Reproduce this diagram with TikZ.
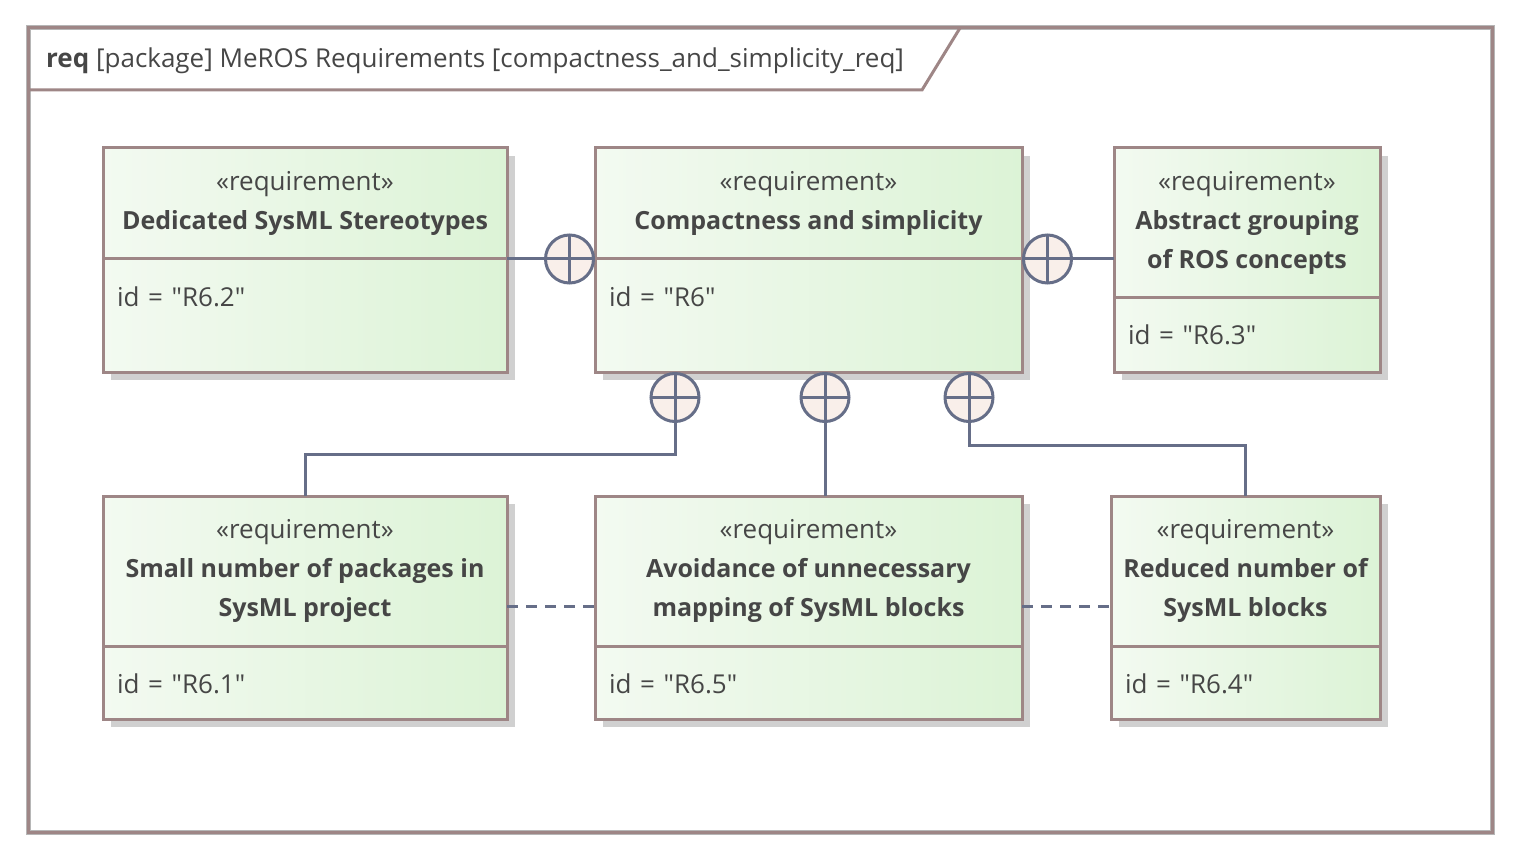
\documentclass[tikz,border=0pt]{standalone}
\usepackage{fontspec}
\setmainfont{Open Sans}
\usetikzlibrary{positioning,shadows}
\definecolor{edge}{RGB}{158,134,134}
\definecolor{lineblue}{RGB}{102,110,136}
\definecolor{ink}{RGB}{70,70,70}
\definecolor{bulb}{RGB}{249,239,234}
\definecolor{fillL}{RGB}{243,250,241}
\definecolor{fillR}{RGB}{220,243,214}
\definecolor{shade}{RGB}{208,208,208}
\definecolor{rim}{RGB}{182,182,182}
\newcommand{\reqname}[1]{{\fontsize{25}{39}\selectfont\bfseries #1}}
\newcommand{\reqid}[1]{id = \textquotedbl #1\textquotedbl}

\begin{document}
\begin{tikzpicture}[
  x = 1pt,
  y = -1pt,
  font = \fontsize{26}{39}\selectfont,
  box/.style = {
    draw = edge,
    line width = 3pt,
    left color = fillL,
    right color = fillR,
    text = ink,
    inner sep = 0pt,
    outer sep = 0pt,
    drop shadow = {shadow xshift=8pt, shadow yshift=-8pt, fill=shade, opacity=1},
  },
  head/.style = {box, align=center},
  attr/.style = {box, inner xsep=14pt, text height=47pt, align=left},
  contain/.style = {
    circle,
    draw = lineblue,
    fill = bulb,
    line width = 3pt,
    minimum size = 48pt,
    inner sep = 0pt,
    path picture = {
      \draw[lineblue, line width=3pt]
        (path picture bounding box.north) -- (path picture bounding box.south)
        (path picture bounding box.west) -- (path picture bounding box.east);
    },
  },
  rel/.style = {draw=lineblue, line width=3pt},
]
  \useasboundingbox (0,0) rectangle (1521,861);

  % diagram frame
  \draw[rim, line width=5pt] (28,28) rectangle (1492,832);
  \draw[edge, line width=3pt] (28,28) rectangle (1492,832);
  \draw[edge, line width=3pt] (28,90) -- (922,90) -- (960,28);
  \node[anchor=west, text=ink, inner sep=0pt] (title) at (46,61)
    {\textbf{req} [package] MeROS Requirements [compactness\_and\_simplicity\_req]};

  % top row
  \node[head, minimum width=427pt, minimum height=111pt, anchor=north west] (r6h) at (595,148)
    {«requirement»\\\reqname{Compactness and simplicity}};
  \node[attr, text width=399pt, text depth=66pt, below=0pt of r6h] (r6a) {\reqid{R6}};

  \node[head, minimum width=404pt, minimum height=111pt, left=88pt of r6h] (r62h)
    {«requirement»\\\reqname{Dedicated SysML Stereotypes}};
  \node[attr, text width=376pt, text depth=66pt, below=0pt of r62h] (r62a) {\reqid{R6.2}};

  \node[head, minimum width=266pt, minimum height=149pt, right=92pt of r6h.north east, anchor=north west] (r63h)
    {«requirement»\\\reqname{Abstract grouping}\\\reqname{of ROS concepts}};
  \node[attr, text width=238pt, text depth=28pt, below=0pt of r63h] (r63a) {\reqid{R6.3}};

  % bottom row
  \node[head, minimum width=427pt, minimum height=150pt, below=124pt of r6a] (r65h)
    {«requirement»\\\reqname{Avoidance of unnecessary}\\\reqname{mapping of SysML blocks}};
  \node[attr, text width=399pt, text depth=26pt, below=0pt of r65h] (r65a) {\reqid{R6.5}};

  \node[head, minimum width=404pt, minimum height=150pt, left=88pt of r65h] (r61h)
    {«requirement»\\\reqname{Small number of packages in}\\\reqname{SysML project}};
  \node[attr, text width=376pt, text depth=26pt, below=0pt of r61h] (r61a) {\reqid{R6.1}};

  \node[head, minimum width=269pt, minimum height=150pt, right=89pt of r65h] (r64h)
    {«requirement»\\\reqname{Reduced number of}\\\reqname{SysML blocks}};
  \node[attr, text width=241pt, text depth=26pt, below=0pt of r64h] (r64a) {\reqid{R6.4}};

  % containment
  \node[contain, left=0pt of r6h.south west] (c1) {};
  \node[contain, right=0pt of r6h.south east] (c2) {};
  \node[contain, below=0pt of r6a.south west, xshift=80pt] (c3) {};
  \node[contain, below=0pt of r6a.south west, xshift=230pt] (c4) {};
  \node[contain, below=0pt of r6a.south west, xshift=374pt] (c5) {};

  \draw[rel] (c1) -- (c1 -| r62h.east);
  \draw[rel] (c2) -- (c2 -| r63h.west);
  \draw[rel] (c3) -- ++(0,57) -| (r61h.north);
  \draw[rel] (c4) -- (c4 |- r65h.north);
  \draw[rel] (c5) -- ++(0,48) -| (r64h.north);

  % dependencies
  \draw[rel, dash pattern=on 11pt off 8pt] ([yshift=-35pt]r61h.east) -- ([yshift=-35pt]r65h.west);
  \draw[rel, dash pattern=on 11pt off 8pt] ([yshift=-35pt]r65h.east) -- ([yshift=-35pt]r64h.west);
\end{tikzpicture}
\end{document}
